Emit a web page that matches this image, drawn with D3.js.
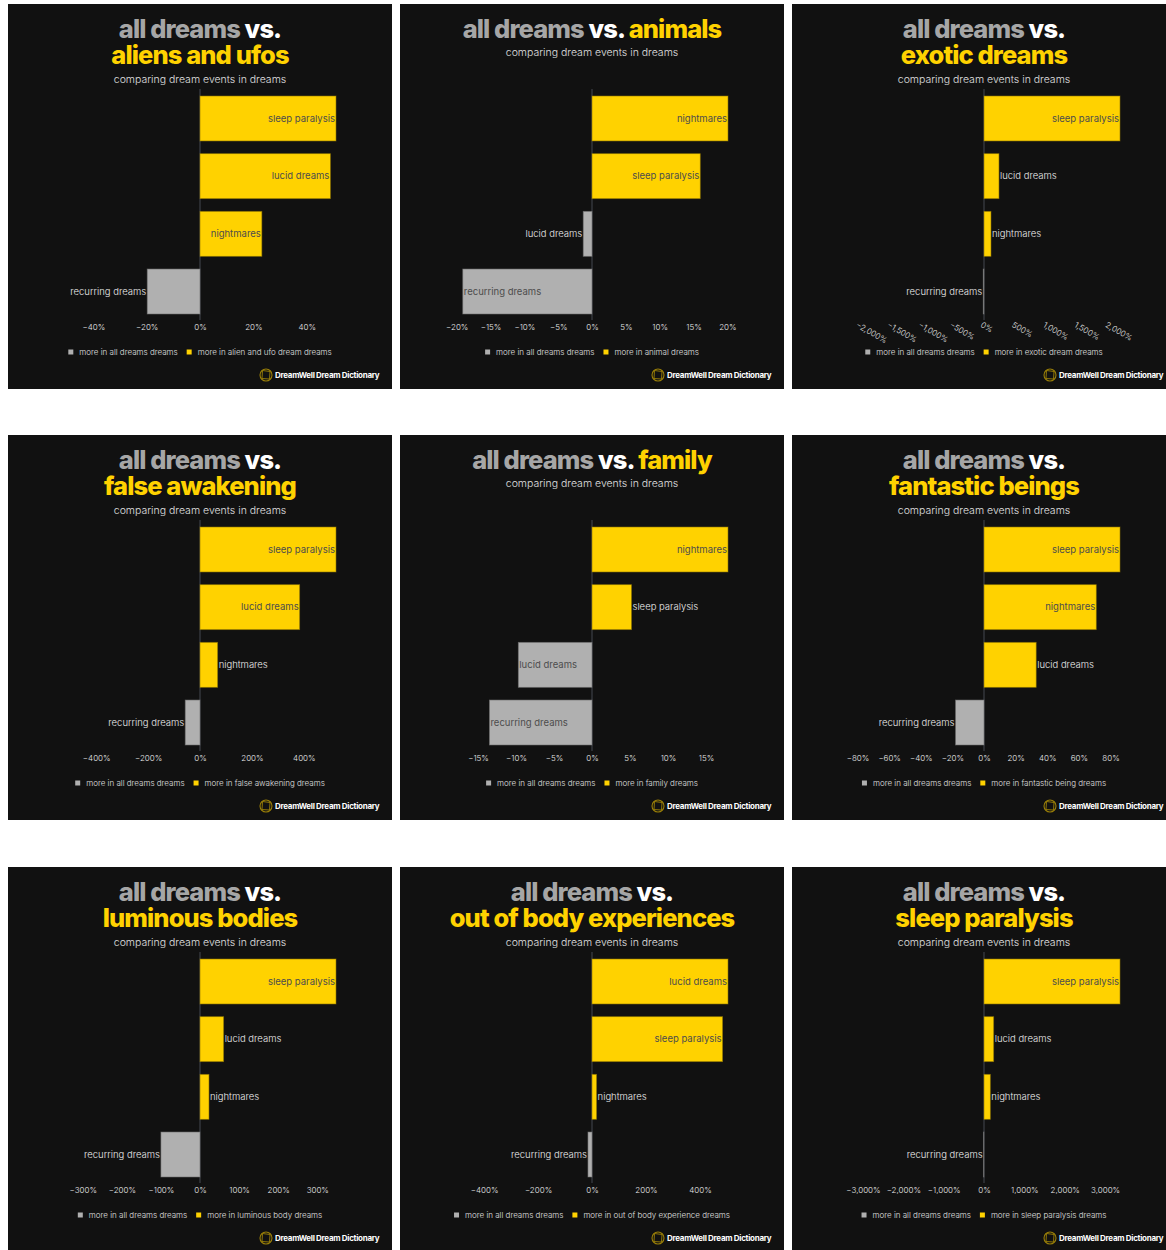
<!DOCTYPE html>
<html>
<head>
<meta charset="utf-8">
<script src="https://cdn.jsdelivr.net/npm/d3@7"></script>
<style>
  html, body { margin: 0; padding: 0; background: #ffffff; }
  svg { display: block; }
  text { font-family: "Inter", "Lato", sans-serif; }
</style>
</head>
<body>
<svg id="chart" width="1166" height="1250"></svg>
<script>
// Topic shown in each panel title, and the wording used in its legend
const panelTopics = ["aliens and ufos", "animals", "exotic dreams", "false awakening", "family",
  "fantastic beings", "luminous bodies", "out of body experiences", "sleep paralysis"];
const legendTopics = ["alien and ufo dream", "animal", "exotic dream", "false awakening", "family",
  "fantastic being", "luminous body", "out of body experience", "sleep paralysis"];
const singleLineTitle = [false, true, false, false, true, false, false, false, false];

// Dream events compared in every panel
const events = ["sleep paralysis", "lucid dreams", "nightmares", "recurring dreams"];

// Percent difference vs. all dreams, one value per panel (same order as panelTopics)
const sleepParalysis  = [51,    16.0, 2180, 524,  5.2, 86, 348,  484, 3370];
const lucidDreams     = [48.9,  -1.3,  240, 384, -9.7, 33, 60.5, 504,  240];
const nightmares      = [23.2,  20.1,  112,  68, 17.9, 71, 23,    17,  157];
const recurringDreams = [-19.8, -19.1, -12, -57, -13.5, -18, -100, -15, -10];

// Axis tick values per panel
const panelTicks = [
  [-40, -20, 0, 20, 40],
  [-20, -15, -10, -5, 0, 5, 10, 15, 20],
  [-2000, -1500, -1000, -500, 0, 500, 1000, 1500, 2000],
  [-400, -200, 0, 200, 400],
  [-15, -10, -5, 0, 5, 10, 15],
  [-80, -60, -40, -20, 0, 20, 40, 60, 80],
  [-300, -200, -100, 0, 100, 200, 300],
  [-400, -200, 0, 200, 400],
  [-3000, -2000, -1000, 0, 1000, 2000, 3000]
];
const rotatedTicks = [false, false, true, false, false, false, false, false, false];

const seriesByEvent = [sleepParalysis, lucidDreams, nightmares, recurringDreams];

const YELLOW = "#ffd200";
const GREY = "#b0b0b0";
const PANEL_W = 384, PANEL_H = 385;
const colX = [8, 400, 792];
const rowY = [4, 435, 867];

const svg = d3.select("#chart");
svg.append("rect").attr("width", 1166).attr("height", 1250).attr("fill", "#ffffff");

const fmt = d3.format(",");

panelTopics.forEach((topic, i) => {
  const g = svg.append("g")
    .attr("transform", `translate(${colX[i % 3]},${rowY[Math.floor(i / 3)]})`);
  g.append("rect").attr("width", PANEL_W).attr("height", PANEL_H).attr("fill", "#111111");

  const cx = PANEL_W / 2;

  // Title
  const titleSize = 25.5;
  const titleText = (yy) => g.append("text").attr("x", cx).attr("y", yy).attr("text-anchor", "middle")
    .attr("font-size", titleSize).attr("font-weight", 800).attr("letter-spacing", -0.9);
  if (singleLineTitle[i]) {
    const t = titleText(34);
    t.append("tspan").attr("fill", "#a6a6a6").text("all dreams ");
    t.append("tspan").attr("fill", "#ffffff").text("vs. ");
    t.append("tspan").attr("fill", YELLOW).text(topic);
  } else {
    const t1 = titleText(34);
    t1.append("tspan").attr("fill", "#a6a6a6").text("all dreams ");
    t1.append("tspan").attr("fill", "#ffffff").text("vs.");
    titleText(60).attr("fill", YELLOW).text(topic);
  }
  g.append("text").attr("x", cx).attr("y", singleLineTitle[i] ? 52 : 79)
    .attr("text-anchor", "middle").attr("font-size", 10.5).attr("font-weight", 300)
    .attr("fill", "#e0e0e0").text("comparing dream events in dreams");

  // Data for this panel, sorted from largest to smallest
  const rows = events.map((e, k) => ({ name: e, value: seriesByEvent[k][i] }))
    .sort((a, b) => b.value - a.value);
  const m = d3.max(rows, d => Math.abs(d.value));

  const x = d3.scaleLinear().domain([-m, m]).range([56, 328]);
  const y = d3.scaleBand().domain(rows.map(d => d.name)).range([92, 310])
    .paddingInner(0.22).paddingOuter(0);

  // zero line
  g.append("line").attr("x1", x(0)).attr("x2", x(0)).attr("y1", 85).attr("y2", 316)
    .attr("stroke", "#2a2c30").attr("stroke-width", 2);

  // bars
  g.selectAll("rect.bar").data(rows).join("rect").attr("class", "bar")
    .attr("x", d => Math.min(x(d.value), x(0)))
    .attr("y", d => y(d.name))
    .attr("width", d => Math.abs(x(d.value) - x(0)))
    .attr("height", y.bandwidth())
    .attr("fill", d => d.value >= 0 ? YELLOW : GREY)
    .attr("stroke", d => d.value >= 0 ? "#8c7300" : "#6e6e6e")
    .attr("stroke-opacity", 0.7)
    .attr("stroke-width", 0.8);

  // bar labels: inside the bar when they fit, otherwise just outside it
  rows.forEach(d => {
    const w = Math.abs(x(d.value) - x(0));
    const lbl = g.append("text").attr("y", y(d.name) + y.bandwidth() / 2)
      .attr("dy", "0.35em").attr("font-size", 9.5).attr("font-weight", 300).text(d.name);
    const tw = lbl.node().getComputedTextLength();
    const inside = w >= tw + 2;
    if (d.value >= 0) {
      if (inside) lbl.attr("x", x(d.value) - 1).attr("text-anchor", "end").attr("fill", "#4d4d4d").attr("font-weight", 400);
      else lbl.attr("x", x(d.value) + 1).attr("text-anchor", "start").attr("fill", "#ececec");
    } else {
      if (inside) lbl.attr("x", x(d.value) + 1).attr("text-anchor", "start").attr("fill", "#4d4d4d").attr("font-weight", 400);
      else lbl.attr("x", x(d.value) - 1).attr("text-anchor", "end").attr("fill", "#ececec");
    }
  });

  // x axis
  const axis = g.append("g").attr("transform", "translate(0,316)")
    .call(d3.axisBottom(x).tickValues(panelTicks[i]).tickSize(0).tickPadding(4)
      .tickFormat(v => fmt(v) + "%"));
  axis.select(".domain").remove();
  axis.selectAll("text").attr("font-size", 8).attr("fill", "#e6e6e6").attr("font-weight", 300)
    .attr("font-family", "Inter, Lato, sans-serif");
  if (rotatedTicks[i]) {
    axis.selectAll("text").attr("text-anchor", "start").attr("y", 0).attr("dy", "0.35em")
      .attr("transform", "translate(-3,4) rotate(30)");
  }

  // legend, centred in the panel
  const leg = g.append("g");
  const items = [
    { color: GREY, label: "more in all dreams dreams" },
    { color: YELLOW, label: `more in ${legendTopics[i]} dreams` }
  ];
  let lx = 0;
  items.forEach((it) => {
    leg.append("rect").attr("x", lx).attr("y", -2.5).attr("width", 5).attr("height", 5)
      .attr("fill", it.color);
    const tx = leg.append("text").attr("x", lx + 11).attr("y", 0).attr("dy", "0.35em")
      .attr("font-size", 8).attr("font-weight", 300).attr("fill", "#e0e0e0").text(it.label);
    lx += 11 + tx.node().getComputedTextLength() + 9;
  });
  const legW = lx - 9;
  leg.attr("transform", `translate(${cx - legW / 2},348)`);

  // footer brand
  const brand = g.append("g").attr("transform", "translate(258,371)");
  brand.append("circle").attr("r", 6).attr("fill", "none").attr("stroke", "#9a7f08").attr("stroke-width", 1.1);
  brand.append("path").attr("d", "M-3.5,-4.5 L4,-3.5 L3.5,4 L-4,3.5 Z")
    .attr("fill", "none").attr("stroke", "#9a7f08").attr("stroke-width", 0.9);
  g.append("text").attr("x", 267).attr("y", 374).attr("font-size", 8).attr("font-weight", 700)
    .attr("letter-spacing", -0.3).attr("fill", "#ffffff").text("DreamWell Dream Dictionary");
});
</script>
</body>
</html>
